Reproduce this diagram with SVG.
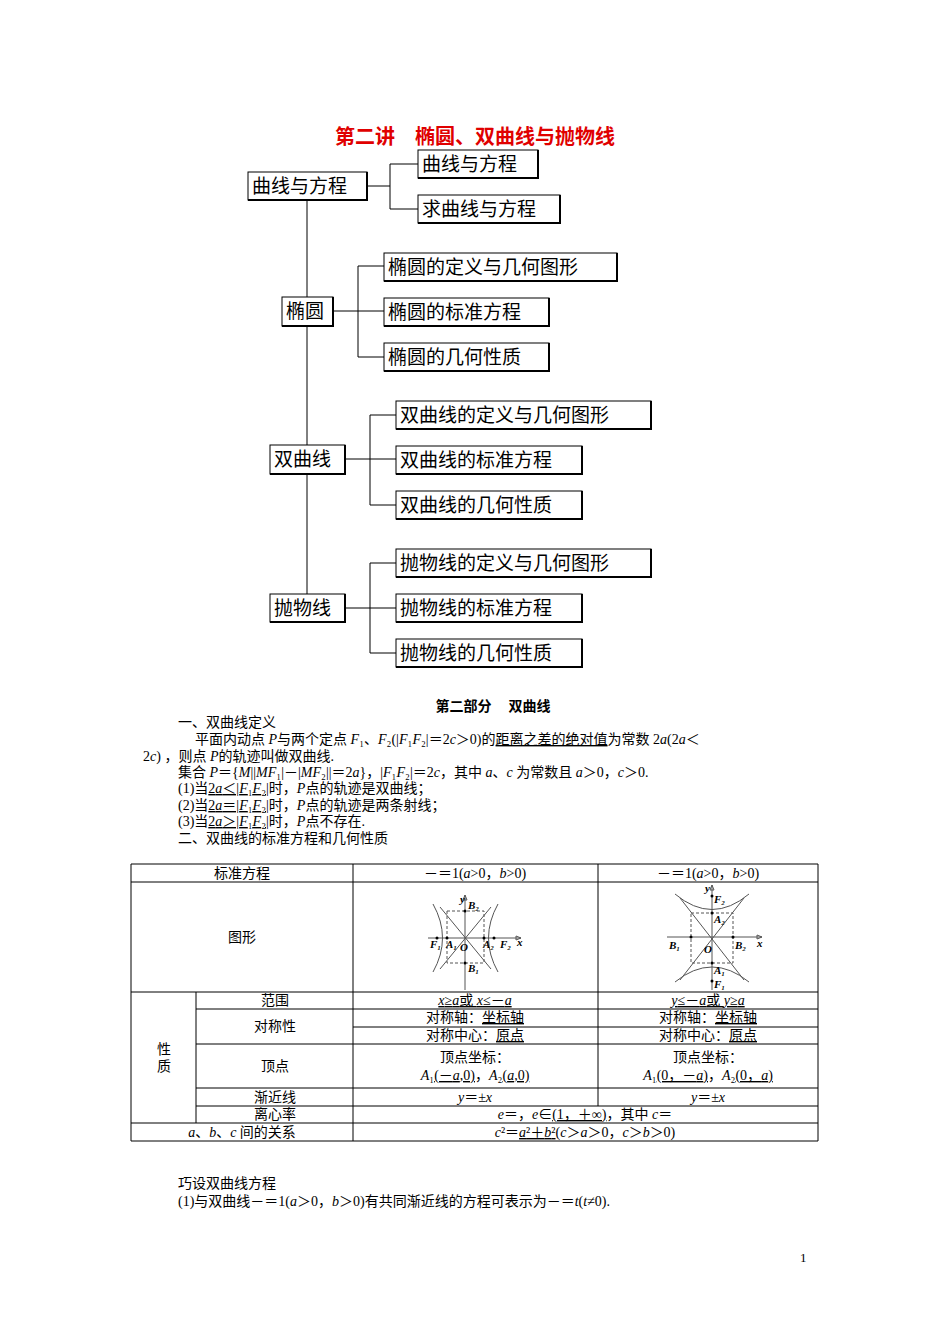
<svg xmlns="http://www.w3.org/2000/svg" width="950" height="1344" viewBox="0 0 950 1344">
<style>
.b{fill:#fff;stroke:#000;stroke-width:1}
.sh{fill:none;stroke:#000;stroke-width:2}
.t{font-family:"Noto Sans CJK SC","DejaVu Sans",sans-serif;font-size:19px;fill:#000}
.s{font-family:"Liberation Serif","Noto Sans CJK SC",serif;font-size:14px;fill:#000}
.c{text-anchor:middle}
.ln{stroke:#000;stroke-width:1;fill:none}
.g{stroke:#555;stroke-width:1;fill:none}
.d{stroke:#555;stroke-width:1;fill:none;stroke-dasharray:3,2}
.f{font-family:"Liberation Serif",serif;font-size:11px;font-weight:bold;font-style:italic}
</style>
<rect width="950" height="1344" fill="#fff"/>
<text x="475" y="144" class="c" font-family="Noto Sans CJK SC,sans-serif" font-size="20" font-weight="bold" fill="#e00000">第二讲　椭圆、双曲线与抛物线</text>
<g id="connectors">
<path class="ln" d="M307 200V594M367 186H390M390 164V209M390 164H418M390 209H418"/>
<path class="ln" d="M333 311H384M358 266V357M358 266H384M358 357H384"/>
<path class="ln" d="M345 459H396M370 415V505M370 415H396M370 505H396"/>
<path class="ln" d="M345 608H396M370 563V653M370 563H396M370 653H396"/>
</g>
<g id="n0"><rect class="b" x="248" y="172" width="119" height="28"/><path class="sh" d="M367 172V200H248"/><text class="t" x="252" y="193">曲线与方程</text></g>
<g id="n1"><rect class="b" x="418" y="150" width="120" height="28"/><path class="sh" d="M538 150V178H418"/><text class="t" x="422" y="171">曲线与方程</text></g>
<g id="n2"><rect class="b" x="418" y="195" width="142" height="28"/><path class="sh" d="M560 195V223H418"/><text class="t" x="422" y="216">求曲线与方程</text></g>
<g id="n3"><rect class="b" x="282" y="297" width="51" height="29"/><path class="sh" d="M333 297V326H282"/><text class="t" x="286" y="318">椭圆</text></g>
<g id="n4"><rect class="b" x="384" y="253" width="233" height="28"/><path class="sh" d="M617 253V281H384"/><text class="t" x="388" y="274">椭圆的定义与几何图形</text></g>
<g id="n5"><rect class="b" x="384" y="298" width="165" height="28"/><path class="sh" d="M549 298V326H384"/><text class="t" x="388" y="319">椭圆的标准方程</text></g>
<g id="n6"><rect class="b" x="384" y="343" width="165" height="28"/><path class="sh" d="M549 343V371H384"/><text class="t" x="388" y="364">椭圆的几何性质</text></g>
<g id="n7"><rect class="b" x="270" y="445" width="75" height="29"/><path class="sh" d="M345 445V474H270"/><text class="t" x="274" y="466">双曲线</text></g>
<g id="n8"><rect class="b" x="396" y="401" width="255" height="28"/><path class="sh" d="M651 401V429H396"/><text class="t" x="400" y="422">双曲线的定义与几何图形</text></g>
<g id="n9"><rect class="b" x="396" y="446" width="186" height="28"/><path class="sh" d="M582 446V474H396"/><text class="t" x="400" y="467">双曲线的标准方程</text></g>
<g id="n10"><rect class="b" x="396" y="491" width="186" height="28"/><path class="sh" d="M582 491V519H396"/><text class="t" x="400" y="512">双曲线的几何性质</text></g>
<g id="n11"><rect class="b" x="270" y="594" width="75" height="28"/><path class="sh" d="M345 594V622H270"/><text class="t" x="274" y="615">抛物线</text></g>
<g id="n12"><rect class="b" x="396" y="549" width="255" height="28"/><path class="sh" d="M651 549V577H396"/><text class="t" x="400" y="570">抛物线的定义与几何图形</text></g>
<g id="n13"><rect class="b" x="396" y="594" width="186" height="28"/><path class="sh" d="M582 594V622H396"/><text class="t" x="400" y="615">抛物线的标准方程</text></g>
<g id="n14"><rect class="b" x="396" y="639" width="186" height="28"/><path class="sh" d="M582 639V667H396"/><text class="t" x="400" y="660">抛物线的几何性质</text></g>

<text x="493" y="711" class="c" font-family="Noto Sans CJK SC,sans-serif" font-size="14" font-weight="bold">第二部分　  双曲线</text>
<g class="s">
<text x="178" y="727">一、双曲线定义</text>
<text x="195" y="744">平面内动点 <tspan font-style="italic">P</tspan>与两个定点 <tspan font-style="italic">F</tspan>₁、<tspan font-style="italic">F</tspan>₂(|<tspan font-style="italic">F</tspan>₁<tspan font-style="italic">F</tspan>₂|＝2<tspan font-style="italic">c</tspan>＞0)的<tspan text-decoration="underline">距离之差的绝对值</tspan>为常数 2<tspan font-style="italic">a</tspan>(2<tspan font-style="italic">a</tspan>＜</text>
<text x="143" y="761">2<tspan font-style="italic">c</tspan>) ，则点 <tspan font-style="italic">P</tspan>的轨迹叫做双曲线.</text>
<text x="178" y="777">集合 <tspan font-style="italic">P</tspan>＝{<tspan font-style="italic">M</tspan>||<tspan font-style="italic">MF</tspan>₁|－|<tspan font-style="italic">MF</tspan>₂||＝2<tspan font-style="italic">a</tspan>}，|<tspan font-style="italic">F</tspan>₁<tspan font-style="italic">F</tspan>₂|＝2<tspan font-style="italic">c</tspan>，其中 <tspan font-style="italic">a</tspan>、<tspan font-style="italic">c</tspan> 为常数且 <tspan font-style="italic">a</tspan>＞0，<tspan font-style="italic">c</tspan>＞0.</text>
<text x="178" y="793">(1)当<tspan text-decoration="underline">2<tspan font-style="italic">a</tspan>＜|<tspan font-style="italic">F</tspan>₁<tspan font-style="italic">F</tspan>₂|</tspan>时，<tspan font-style="italic">P</tspan>点的轨迹是双曲线；</text>
<text x="178" y="810">(2)当<tspan text-decoration="underline">2<tspan font-style="italic">a</tspan>＝|<tspan font-style="italic">F</tspan>₁<tspan font-style="italic">F</tspan>₂|</tspan>时，<tspan font-style="italic">P</tspan>点的轨迹是两条射线；</text>
<text x="178" y="826">(3)当<tspan text-decoration="underline">2<tspan font-style="italic">a</tspan>＞|<tspan font-style="italic">F</tspan>₁<tspan font-style="italic">F</tspan>₂|</tspan>时，<tspan font-style="italic">P</tspan>点不存在.</text>
<text x="178" y="843">二、双曲线的标准方程和几何性质</text>
</g>

<g id="table">
<path class="ln" d="M131 864H818V1141H131ZM131 882H818M131 992H818M196 1009H818M196 1044H818M598 1027H818M353 1027H598M196 1088H818M196 1106H818M131 1123H818"/>
<path class="ln" d="M196 992V1123M353 864V1141M598 864V1106"/>
<g class="s c">
<text x="242" y="878">标准方程</text>
<text x="475" y="878">－＝1(<tspan font-style="italic">a</tspan>&gt;0，<tspan font-style="italic">b</tspan>&gt;0)</text>
<text x="708" y="878">－＝1(<tspan font-style="italic">a</tspan>&gt;0，<tspan font-style="italic">b</tspan>&gt;0)</text>
<text x="242" y="942">图形</text>
<text x="164" y="1054">性</text><text x="164" y="1071">质</text>
<text x="275" y="1005">范围</text>
<text x="475" y="1005"><tspan font-style="italic" text-decoration="underline">x</tspan><tspan text-decoration="underline">≥<tspan font-style="italic">a</tspan>或 <tspan font-style="italic">x</tspan>≤－<tspan font-style="italic">a</tspan></tspan></text>
<text x="708" y="1005" text-decoration="underline"><tspan font-style="italic">y</tspan>≤－<tspan font-style="italic">a</tspan>或 <tspan font-style="italic">y</tspan>≥<tspan font-style="italic">a</tspan></text>
<text x="275" y="1031">对称性</text>
<text x="475" y="1022">对称轴：<tspan text-decoration="underline">坐标轴</tspan></text>
<text x="708" y="1022">对称轴：<tspan text-decoration="underline">坐标轴</tspan></text>
<text x="475" y="1040">对称中心：<tspan text-decoration="underline">原点</tspan></text>
<text x="708" y="1040">对称中心：<tspan text-decoration="underline">原点</tspan></text>
<text x="275" y="1071">顶点</text>
<text x="475" y="1062">顶点坐标：</text>
<text x="475" y="1080"><tspan font-style="italic">A</tspan>₁<tspan text-decoration="underline">(－<tspan font-style="italic">a</tspan>,0)</tspan>，<tspan font-style="italic">A</tspan>₂<tspan text-decoration="underline">(<tspan font-style="italic">a</tspan>,0)</tspan></text>
<text x="708" y="1062">顶点坐标：</text>
<text x="708" y="1080"><tspan font-style="italic">A</tspan>₁<tspan text-decoration="underline">(0，－<tspan font-style="italic">a</tspan>)</tspan>，<tspan font-style="italic">A</tspan>₂<tspan text-decoration="underline">(0，<tspan font-style="italic">a</tspan>)</tspan></text>
<text x="275" y="1102">渐近线</text>
<text x="475" y="1102"><tspan font-style="italic">y</tspan>＝±<tspan font-style="italic">x</tspan></text>
<text x="708" y="1102"><tspan font-style="italic">y</tspan>＝±<tspan font-style="italic">x</tspan></text>
<text x="275" y="1119">离心率</text>
<text x="585" y="1119"><tspan font-style="italic">e</tspan>＝，<tspan font-style="italic">e</tspan>∈<tspan text-decoration="underline">(1，＋∞)</tspan>，其中 <tspan font-style="italic">c</tspan>＝</text>
<text x="242" y="1137"><tspan font-style="italic">a</tspan>、<tspan font-style="italic">b</tspan>、<tspan font-style="italic">c</tspan> 间的关系</text>
<text x="585" y="1137"><tspan font-style="italic">c</tspan>²＝<tspan text-decoration="underline"><tspan font-style="italic">a</tspan>²＋<tspan font-style="italic">b</tspan>²</tspan>(<tspan font-style="italic">c</tspan>＞<tspan font-style="italic">a</tspan>＞0，<tspan font-style="italic">c</tspan>＞<tspan font-style="italic">b</tspan>＞0)</text>
</g>
</g>

<g id="fig1">
<path class="g" d="M351 0" />
<path class="g" d="M351 0"/>
<path class="g" stroke-width="1.2" d="M351 0"/>
<path class="g" d="M351 0"/>
<path class="g" d="M351 0"/>
<path class="g" d="M351 0"/>
<path class="g" d="M351 0"/>
<path class="g" d="M351 0"/>
<path class="g" d="M351 0"/>
<path class="g" stroke-width="1.3" d="M351 0"/>
<path class="g" stroke-width="1.3" d="M351 0"/>
<path class="g" stroke-width="1.3" d="M351 0"/>
<path class="g" stroke-width="1.3" d="M351 0"/>
<path class="g" stroke-width="1.3" d="M351 0"/>
<path class="g" stroke-width="1.3" d="M351 0"/>
<path class="g" stroke-width="1.3" d="M351 0"/>
<path class="g" stroke-width="1.3" d="M351 0"/>
<path class="g" stroke-width="1.3" d="M351 0"/>
<path class="g" stroke-width="1.3" d="M351 0"/>
<path class="g" stroke-width="1.3" d="M351 0"/>
<path class="g" stroke-width="1.3" d="M428 938H521M521 938l-5 -2v4zM465 990V895M465 895l-2 5h4z"/>
<path class="d" d="M447 911H484V963H447Z"/>
<path class="g" d="M440 907L491 969M491 907L440 969"/>
<path class="g" d="M433 904Q452 938 433 972M498 904Q479 938 498 972"/>
<g fill="#000"><circle cx="437" cy="938" r="1.5"/><circle cx="447" cy="938" r="1.5"/><circle cx="484" cy="938" r="1.5"/><circle cx="494" cy="938" r="1.5"/><circle cx="465" cy="911" r="1.5"/><circle cx="465" cy="963" r="1.5"/></g>
<g class="f"><text x="460" y="903">y</text><text x="468" y="909">B₂</text><text x="430" y="948">F₁</text><text x="446" y="948">A₁</text><text x="460" y="951">O</text><text x="483" y="948">A₂</text><text x="500" y="948">F₂</text><text x="517" y="946">x</text><text x="468" y="972">B₁</text></g>
</g>
<g id="fig2">
<path class="g" stroke-width="1.3" d="M667 937H762M762 937l-5 -2v4zM712 990V885M712 885l-2 5h4z"/>
<path class="d" d="M691 913H733V963H691Z"/>
<path class="g" d="M680 898L744 980M744 898L680 980"/>
<path class="g" d="M675 894Q712 925 749 894M675 982Q712 952 749 982"/>
<g fill="#000"><circle cx="691" cy="937" r="1.5"/><circle cx="733" cy="937" r="1.5"/><circle cx="712" cy="913" r="1.5"/><circle cx="712" cy="963" r="1.5"/><circle cx="712" cy="896" r="1.5"/><circle cx="712" cy="981" r="1.5"/></g>
<g class="f"><text x="705" y="892">y</text><text x="714" y="903">F₂</text><text x="714" y="923">A₂</text><text x="669" y="949">B₁</text><text x="704" y="953">O</text><text x="735" y="949">B₂</text><text x="757" y="947">x</text><text x="714" y="974">A₁</text><text x="714" y="988">F₁</text></g>
</g>

<g class="s">
<text x="178" y="1188">巧设双曲线方程</text>
<text x="178" y="1206">(1)与双曲线－＝1(<tspan font-style="italic">a</tspan>＞0，<tspan font-style="italic">b</tspan>＞0)有共同渐近线的方程可表示为－＝<tspan font-style="italic">t</tspan>(<tspan font-style="italic">t</tspan>≠0).</text>
<text x="800" y="1262" font-size="13">1</text>
</g>
</svg>
